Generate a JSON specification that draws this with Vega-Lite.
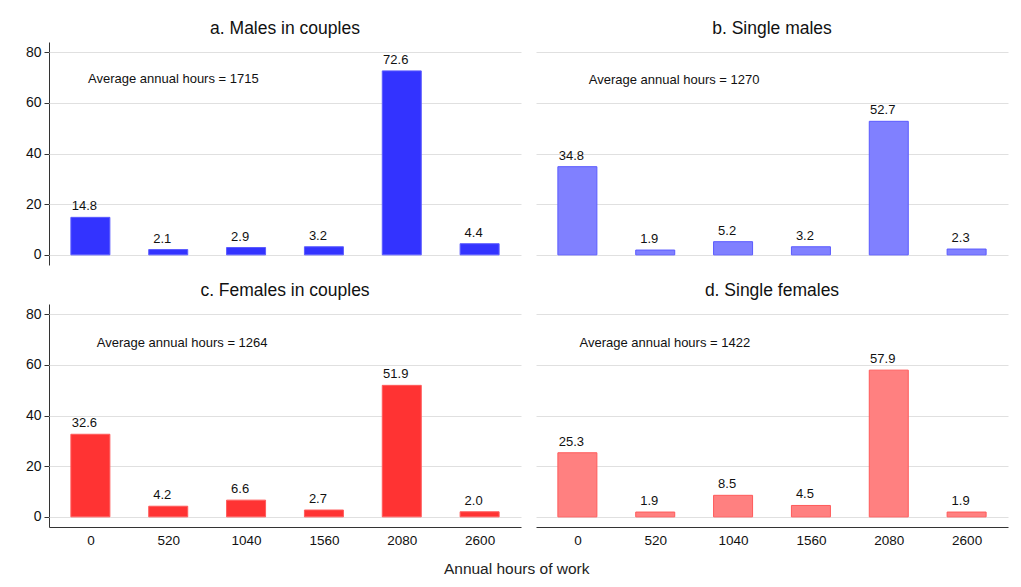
{
  "$schema": "https://vega.github.io/schema/vega-lite/v6.json",
  "padding": {"left": 25, "top": 19, "right": 4, "bottom": 5},
  "background": "white",
  "title": {"text": "Annual hours of work", "orient": "bottom", "anchor": "middle", "fontSize": 15.5, "fontWeight": "normal", "font": "Liberation Sans", "offset": 15, "color": "#222222"},
  "data": {"values": [
    {"panel": "a. Males in couples", "hours": 0, "pct": 14.8},
    {"panel": "a. Males in couples", "hours": 520, "pct": 2.1},
    {"panel": "a. Males in couples", "hours": 1040, "pct": 2.9},
    {"panel": "a. Males in couples", "hours": 1560, "pct": 3.2},
    {"panel": "a. Males in couples", "hours": 2080, "pct": 72.6},
    {"panel": "a. Males in couples", "hours": 2600, "pct": 4.4},
    {"panel": "b. Single males", "hours": 0, "pct": 34.8},
    {"panel": "b. Single males", "hours": 520, "pct": 1.9},
    {"panel": "b. Single males", "hours": 1040, "pct": 5.2},
    {"panel": "b. Single males", "hours": 1560, "pct": 3.2},
    {"panel": "b. Single males", "hours": 2080, "pct": 52.7},
    {"panel": "b. Single males", "hours": 2600, "pct": 2.3},
    {"panel": "c. Females in couples", "hours": 0, "pct": 32.6},
    {"panel": "c. Females in couples", "hours": 520, "pct": 4.2},
    {"panel": "c. Females in couples", "hours": 1040, "pct": 6.6},
    {"panel": "c. Females in couples", "hours": 1560, "pct": 2.7},
    {"panel": "c. Females in couples", "hours": 2080, "pct": 51.9},
    {"panel": "c. Females in couples", "hours": 2600, "pct": 2.0},
    {"panel": "d. Single females", "hours": 0, "pct": 25.3},
    {"panel": "d. Single females", "hours": 520, "pct": 1.9},
    {"panel": "d. Single females", "hours": 1040, "pct": 8.5},
    {"panel": "d. Single females", "hours": 1560, "pct": 4.5},
    {"panel": "d. Single females", "hours": 2080, "pct": 57.9},
    {"panel": "d. Single females", "hours": 2600, "pct": 1.9},
    {"panel": "a. Males in couples", "ax": 554, "ay": 69.3, "note": "Average annual hours = 1715"},
    {"panel": "b. Single males", "ax": 646, "ay": 68.9, "note": "Average annual hours = 1270"},
    {"panel": "c. Females in couples", "ax": 613, "ay": 68.5, "note": "Average annual hours = 1264"},
    {"panel": "d. Single females", "ax": 584, "ay": 68.5, "note": "Average annual hours = 1422"}
  ]},
  "facet": {"field": "panel", "type": "nominal", "header": {"title": null, "labelFontSize": 17.5, "labelFont": "Liberation Sans", "labelPadding": 5, "labelColor": "#111111"}},
  "columns": 2,
  "spacing": {"row": 16, "column": 15},
  "spec": {
    "width": 472,
    "height": 223,
    "layer": [
      {
        "transform": [{"filter": "datum.pct != null"}],
        "mark": {"type": "bar", "width": 39, "strokeWidth": 1},
        "encoding": {
          "x": {"field": "hours", "type": "quantitative", "scale": {"domain": [-243, 2843], "nice": false, "zero": false},
                "axis": {"values": [0, 520, 1040, 1560, 2080, 2600], "format": "d", "title": null, "ticks": false, "grid": false, "labelFontSize": 13.5, "labelPadding": 6, "domainColor": "#333333", "labelColor": "#111111", "labelFont": "Liberation Sans"}},
          "y": {"field": "pct", "type": "quantitative", "scale": {"domain": [-4, 84], "nice": false, "zero": false},
                "axis": {"values": [0, 20, 40, 60, 80], "title": null, "domainColor": "#333333", "tickColor": "#333333", "gridColor": "#e0e0e0", "labelFontSize": 14, "tickSize": 5, "labelPadding": 3, "labelColor": "#111111", "labelFont": "Liberation Sans"}},
          "color": {"field": "panel", "type": "nominal", "legend": null,
                    "scale": {"domain": ["a. Males in couples", "b. Single males", "c. Females in couples", "d. Single females"], "range": ["#3333ff", "#8080ff", "#ff3333", "#ff8080"]}},
          "stroke": {"field": "panel", "type": "nominal", "legend": null,
                    "scale": {"domain": ["a. Males in couples", "b. Single males", "c. Females in couples", "d. Single females"], "range": ["#5c5cff", "#5a5aff", "#ff5c5c", "#ff5a5a"]}}
        }
      },
      {
        "transform": [{"filter": "datum.pct != null"}],
        "mark": {"type": "text", "baseline": "bottom", "dy": -4, "dx": -6, "fontSize": 13, "font": "Liberation Sans", "color": "#111111"},
        "encoding": {
          "x": {"field": "hours", "type": "quantitative"},
          "y": {"field": "pct", "type": "quantitative"},
          "text": {"field": "pct", "type": "quantitative", "format": ".1f"}
        }
      },
      {
        "transform": [{"filter": "datum.note != null"}],
        "mark": {"type": "text", "baseline": "middle", "align": "center", "fontSize": 13, "font": "Liberation Sans", "color": "#111111"},
        "encoding": {
          "x": {"field": "ax", "type": "quantitative"},
          "y": {"field": "ay", "type": "quantitative"},
          "text": {"field": "note", "type": "nominal"}
        }
      }
    ]
  },
  "config": {"view": {"stroke": null}}
}
